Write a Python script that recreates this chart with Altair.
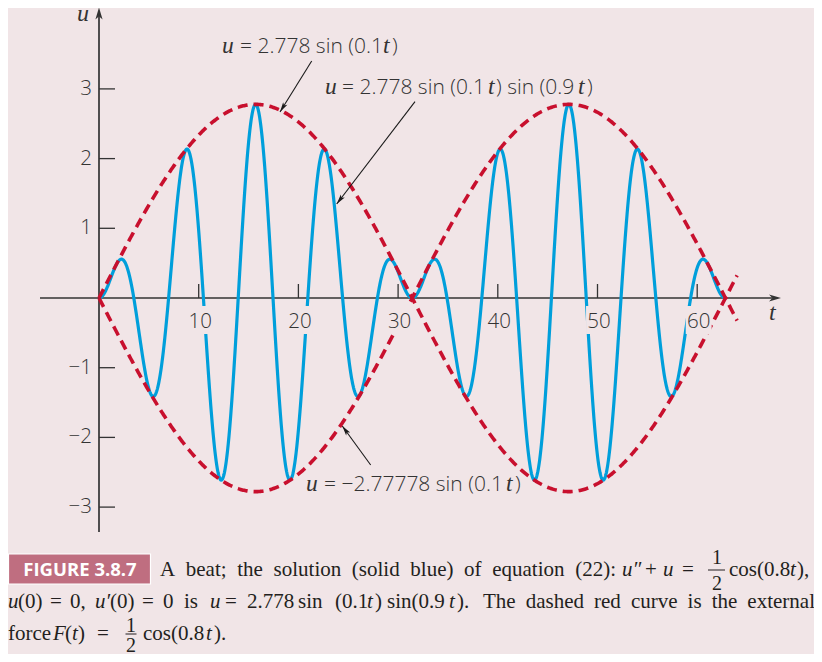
import math
import altair as alt
import numpy as np
import pandas as pd

# ---------------- data ----------------
amplitude = [2.778]              # u = 2.778 sin(0.1 t) sin(0.9 t)
slow_freq = [0.1]
fast_freq = [0.9]
solution_t_range = [0.0, 62.83]  # blue solid curve
envelope_t_range = [0.0, 64.0]   # red dashed envelopes

x_ticks = [10, 20, 30, 40, 50, 60]
x_tick_labels = ["10", "20", "30", "40", "50", "60"]
y_ticks = [3, 2, 1, -1, -2, -3]
y_tick_labels = ["3", "2", "1", "−1", "−2", "−3"]

# ---------------- geometry / style ----------------
BG = "#f1e5e7"
BLUE = "#009fdb"
RED = "#c8102e"
AX = "#333333"
INK = "#231f20"
SANSFONT = "Open Sans"

X0, SX = 99.0, 9.97    # page px of t = 0, px per unit of t
Y0, SY = 298.0, 69.7   # page px of u = 0, px per unit of u
W, H = 806, 646


def T(px):
    return (px - X0) / SX


def U(py):
    return (Y0 - py) / SY


xs = alt.Scale(domain=[T(8), T(8 + W)], nice=False, zero=False)
ys = alt.Scale(domain=[U(8 + H), U(8)], nice=False, zero=False)


def X(f="t"):
    return alt.X(f"{f}:Q", scale=xs, axis=None)


def Y(f="u"):
    return alt.Y(f"{f}:Q", scale=ys, axis=None)


layers = []

# ---------------- axes ----------------
axes_df = pd.DataFrame([
    {"t": T(40), "u": 0.0, "t2": T(772), "u2": 0.0},
    {"t": 0.0, "u": U(532), "t2": 0.0, "u2": U(16)},
])
layers.append(alt.Chart(axes_df).mark_rule(color=AX, strokeWidth=1.7).encode(
    x=X("t"), y=Y("u"), x2="t2:Q", y2="u2:Q"))

HEAD = "M0,0 L0.6,2 L0,1.45 L-0.6,2 Z"
heads_df = pd.DataFrame([
    {"t": T(781), "u": 0.0, "ang": 90.0},
    {"t": 0.0, "u": U(7.5), "ang": 0.0},
])
layers.append(alt.Chart(heads_df).mark_point(
    shape=HEAD, size=144, filled=True, color=AX, opacity=1, strokeWidth=0).encode(
    x=X("t"), y=Y("u"), angle=alt.Angle("ang:Q", scale=None)))

ytick_df = pd.DataFrame({"t": 0.0, "t2": T(115), "u": y_ticks})
layers.append(alt.Chart(ytick_df).mark_rule(color=AX, strokeWidth=1.3).encode(
    x=X("t"), x2="t2:Q", y=Y("u")))
xtick_df = pd.DataFrame({"t": x_ticks, "u": 0.0, "u2": U(284)})
layers.append(alt.Chart(xtick_df).mark_rule(color=AX, strokeWidth=1.3).encode(
    x=X("t"), y=Y("u"), y2="u2:Q"))

ylab_df = pd.DataFrame({"t": T(92), "u": y_ticks, "text": y_tick_labels})
layers.append(alt.Chart(ylab_df).mark_text(
    font=SANSFONT, fontWeight=300, fontSize=20.5, color=AX, align="right", baseline="middle").encode(
    x=X("t"), y=Y("u"), text="text:N"))

# ---------------- curves ----------------
t_sol = np.linspace(solution_t_range[0], solution_t_range[1], 1600)
sol_df = pd.DataFrame({"t": t_sol,
                       "u": amplitude[0] * np.sin(slow_freq[0] * t_sol) * np.sin(fast_freq[0] * t_sol)})
t_env = np.linspace(envelope_t_range[0], envelope_t_range[1], 700)
env_df = pd.concat([
    pd.DataFrame({"t": t_env, "u": amplitude[0] * np.sin(slow_freq[0] * t_env), "branch": "upper"}),
    pd.DataFrame({"t": t_env, "u": -amplitude[0] * np.sin(slow_freq[0] * t_env), "branch": "lower"}),
])
layers.append(alt.Chart(sol_df).mark_line(color=BLUE, strokeWidth=3.2).encode(x=X(), y=Y()))
layers.append(alt.Chart(env_df).mark_line(color=RED, strokeWidth=3.6, strokeDash=[10, 6]).encode(
    x=X(), y=Y(), detail="branch:N"))

# x tick labels sit on a knock-out patch of background colour
xlab_df = pd.DataFrame({"t": [v + 0.15 for v in x_ticks], "u": U(321.5), "text": x_tick_labels})
knock_df = pd.DataFrame({"t": [v - 1.15 for v in x_ticks], "t2": [v + 1.45 for v in x_ticks],
                         "u": U(306), "u2": U(334)})
layers.append(alt.Chart(knock_df).mark_rect(color=BG).encode(
    x=X("t"), x2="t2:Q", y=Y("u"), y2="u2:Q"))
layers.append(alt.Chart(xlab_df).mark_text(
    font=SANSFONT, fontWeight=300, fontSize=20.5, color=AX, align="center", baseline="middle").encode(
    x=X("t"), y=Y("u"), text="text:N"))


# ---------------- text helpers ----------------
def text_layer(rows, **kw):
    df = pd.DataFrame([{"t": T(x), "u": U(y), "text": s} for x, y, s in rows])
    return alt.Chart(df).mark_text(**kw).encode(x=X("t"), y=Y("u"), text="text:N")


SANS = dict(font=SANSFONT, fontWeight=300, fontSize=21, color=AX, align="left", baseline="alphabetic")
ITAL = dict(font="Liberation Serif", fontStyle="italic", fontSize=23.5, color=AX, align="left",
            baseline="alphabetic")

# axis names
layers.append(text_layer([(77, 21, "u"), (769, 320, "t")],
                         font="Liberation Serif", fontStyle="italic", fontSize=24, color=AX,
                         align="left", baseline="alphabetic"))

# annotations
sans_rows = [
    (240, 53, "= 2.778 sin (0.1"), (392, 53, ")"),
    (342, 94, "= 2.778 sin (0.1"), (496, 94, ") sin (0.9"), (587, 94, ")"),
    (324, 491, "= −2.77778 sin (0.1"), (515, 491, ")"),
]
ital_rows = [
    (222, 53, "u"), (383, 53, "t"),
    (325, 94, "u"), (488, 94, "t"), (578, 94, "t"),
    (306, 491, "u"), (506, 491, "t"),
]
layers.append(text_layer(sans_rows, **SANS))
layers.append(text_layer(ital_rows, **ITAL))

arrows = [((311.7, 61), (280, 112)), ((415, 101.7), (336.7, 204)), ((370.7, 465), (342.3, 426))]
arr_line = pd.DataFrame([{"t": T(a[0]), "u": U(a[1]), "t2": T(b[0]), "u2": U(b[1])} for a, b in arrows])
layers.append(alt.Chart(arr_line).mark_rule(color="#1a1a1a", strokeWidth=1.1).encode(
    x=X("t"), y=Y("u"), x2="t2:Q", y2="u2:Q"))
arr_head = pd.DataFrame([{"t": T(b[0]), "u": U(b[1]),
                          "ang": math.degrees(math.atan2(b[0] - a[0], -(b[1] - a[1]))) % 360}
                         for a, b in arrows])
layers.append(alt.Chart(arr_head).mark_point(
    shape="M0,0 L0.5,2 L0,1.55 L-0.5,2 Z", size=100, filled=True, color="#1a1a1a", opacity=1,
    strokeWidth=0).encode(x=X("t"), y=Y("u"), angle=alt.Angle("ang:Q", scale=None)))

# ---------------- caption ----------------
box_df = pd.DataFrame([{"t": T(8.5), "t2": T(150.5), "u": U(554), "u2": U(584)}])
layers.append(alt.Chart(box_df).mark_rect(color="#bf6e80", stroke="#ffffff", strokeWidth=1.2).encode(
    x=X("t"), x2="t2:Q", y=Y("u"), y2="u2:Q"))
layers.append(text_layer([(80, 575.5, "FIGURE 3.8.7")], font="Open Sans", fontWeight="bold",
                         fontSize=18.5, color="#ffffff", align="center", baseline="alphabetic"))

TIMES = {" ": .25, "(": .333, ")": .333, ",": .25, ".": .25, ":": .278, ";": .278, "=": .564,
         "A": .722, "T": .611, "a": .444, "b": .5, "c": .444, "d": .5, "e": .444, "f": .333,
         "h": .5, "i": .278, "l": .278, "n": .5, "o": .5, "q": .5, "r": .333, "s": .389, "t": .278,
         "u": .5, "v": .5, "x": .5}
CAP = 21


def justify(text, x0, x1, y):
    words = text.split(" ")
    widths = [sum(TIMES.get(c, .5) for c in w) * CAP for w in words]
    gap = (x1 - x0 - sum(widths)) / (len(words) - 1)
    out, x = [], x0
    for w, wd in zip(words, widths):
        out.append((x, y, w))
        x += wd + gap
    return out


L1, L2, L3 = 576, 608, 640
cap_rows = (justify("A beat; the solution (solid blue) of equation (22):", 160, 616, L1)
            + [(645, L1, "+"), (682, L1, "="), (729, L1, "cos(0.8"), (797, L1, "),")]
            + [(18, L2, "(0)"), (50, L2, "="), (70, L2, "0,"), (110, L2, "(0)"), (142, L2, "="),
               (163, L2, "0"), (184, L2, "is"), (225, L2, "="), (247, L2, "2.778"), (298, L2, "sin"),
               (335, L2, "(0.1"), (375, L2, ")"), (387, L2, "sin(0.9"), (457, L2, ").")]
            + justify("The dashed red curve is the external", 483, 815, L2)
            + [(8, L3, "force"), (65, L3, "("), (78, L3, ")"), (97, L3, "="),
               (143, L3, "cos(0.8"), (214, L3, ").")])
cap_ital = [(622, L1, "u″"), (663, L1, "u"), (790, L1, "t"),
            (8, L2, "u"), (95, L2, "u′"), (210, L2, "u"), (367, L2, "t"), (449, L2, "t"),
            (53, L3, "F"), (72, L3, "t"), (206, L3, "t")]
layers.append(text_layer(cap_rows, font="Liberation Serif", fontSize=CAP, color=INK,
                         align="left", baseline="alphabetic"))
layers.append(text_layer(cap_ital, font="Liberation Serif", fontStyle="italic", fontSize=CAP,
                         color=INK, align="left", baseline="alphabetic"))

frac_rows = [(717, 564, "1"), (717, 590, "2"), (131, 632, "1"), (131, 652, "2")]
layers.append(text_layer(frac_rows, font="Liberation Serif", fontSize=20, color=INK,
                         align="center", baseline="alphabetic"))
bars_df = pd.DataFrame([{"t": T(708), "t2": T(725), "u": U(570)},
                        {"t": T(125.5), "t2": T(136.5), "u": U(634)}])
layers.append(alt.Chart(bars_df).mark_rule(color=INK, strokeWidth=1).encode(
    x=X("t"), x2="t2:Q", y=Y("u")))

chart = alt.layer(*layers).properties(
    width=W, height=H, padding=0, autosize=alt.AutoSizeParams(type="none"), background=BG
).configure_view(stroke=None)

chart.save("out.html", embed_options={"renderer": "svg", "actions": False})
